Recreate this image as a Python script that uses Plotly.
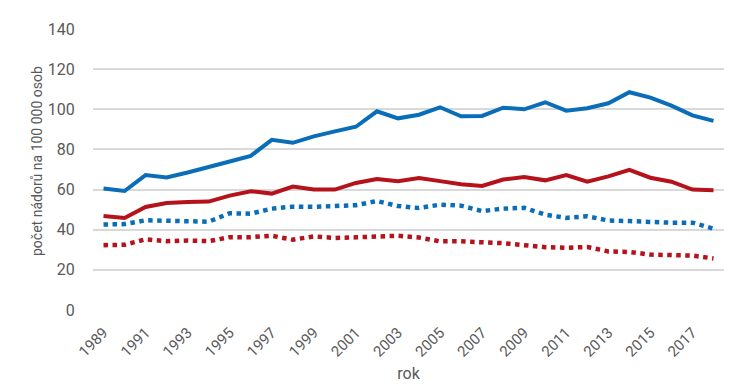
import plotly.graph_objects as go

years = list(range(1989, 2019))
blue_solid = [60.5, 59.3, 67.2, 66.0, 68.5, 71.5, 74.0, 76.8, 84.8, 83.3, 86.5, 89.0, 91.3, 99.0, 95.5,
              97.3, 101.0, 96.5, 96.7, 100.8, 100.0, 103.5, 99.3, 100.5, 103.0, 108.5, 105.8, 101.8, 97.0, 94.2]
red_solid = [46.8, 45.8, 51.3, 53.3, 53.8, 54.0, 57.0, 59.2, 58.0, 61.5, 60.0, 60.0, 63.3, 65.2, 64.2,
             65.8, 64.2, 62.6, 61.8, 65.0, 66.3, 64.6, 67.2, 63.9, 66.6, 69.8, 65.9, 63.9, 60.0, 59.6]
blue_dotted = [42.6, 42.8, 44.7, 44.5, 43.8, 44.0, 48.2, 48.0, 50.5, 51.5, 51.4, 52.0, 52.2, 54.3, 51.8,
               50.8, 52.5, 52.0, 49.3, 50.5, 50.9, 47.5, 45.9, 46.7, 44.6, 44.3, 43.7, 43.5, 43.5, 40.5]
red_dotted = [32.3, 32.5, 35.2, 34.3, 34.6, 34.3, 36.3, 36.3, 37.0, 35.0, 36.7, 35.9, 36.2, 36.8, 37.0,
              36.1, 34.2, 34.2, 34.0, 33.3, 32.3, 31.3, 31.0, 31.4, 29.2, 28.9, 27.6, 27.3, 27.1, 25.7]
tick_years = list(range(1989, 2018, 2))
y_ticks = [0, 20, 40, 60, 80, 100, 120, 140]
y_title = "počet nádorů na 100 000 osob"
x_title = "rok"

BLUE = "#0a6db8"
RED = "#b5121b"
FONT = "Roboto, sans-serif"
TXT = "#595959"

fig = go.Figure()
for ys, col, dash, w in [
    (blue_solid, BLUE, "solid", 4),
    (red_solid, RED, "solid", 4),
    (blue_dotted, BLUE, "4.5px,4.5px", 4.5),
    (red_dotted, RED, "4.5px,4.5px", 4.5),
]:
    fig.add_trace(go.Scatter(x=years, y=ys, mode="lines",
                             line=dict(color=col, width=w, dash=dash),
                             showlegend=False, hoverinfo="skip"))

fig.update_layout(
    width=743, height=392,
    margin=dict(l=85, r=27, t=21, b=90),
    paper_bgcolor="white", plot_bgcolor="white",
    font=dict(family=FONT, size=15, color=TXT),
    xaxis=dict(range=[1988.5, 2018.5], tickvals=tick_years, ticktext=[str(t) for t in tick_years],
               tickangle=-45, showgrid=False, zeroline=False, showline=False,
               ticks="outside", ticklen=7, tickcolor="rgba(0,0,0,0)",
               tickfont=dict(family=FONT, size=15, color=TXT),
               title=dict(text=x_title, font=dict(family=FONT, size=16, color=TXT), standoff=8),
               automargin=False),
    yaxis=dict(range=[0, 140], tickvals=y_ticks, showgrid=True, gridcolor="#d9d9d9", gridwidth=1.5,
               zeroline=False, showline=False,
               ticks="outside", ticklen=14, tickcolor="rgba(0,0,0,0)",
               tickfont=dict(family=FONT, size=16, color=TXT),
               automargin=False),
    annotations=[dict(text=y_title, textangle=-90, xref="paper", yref="paper",
                      x=-(85 - 29) / 631, y=(302 - 153) / 281, xanchor="center", yanchor="middle",
                      showarrow=False, font=dict(family=FONT, size=14, color=TXT))],
)

fig.write_html("out.html")
